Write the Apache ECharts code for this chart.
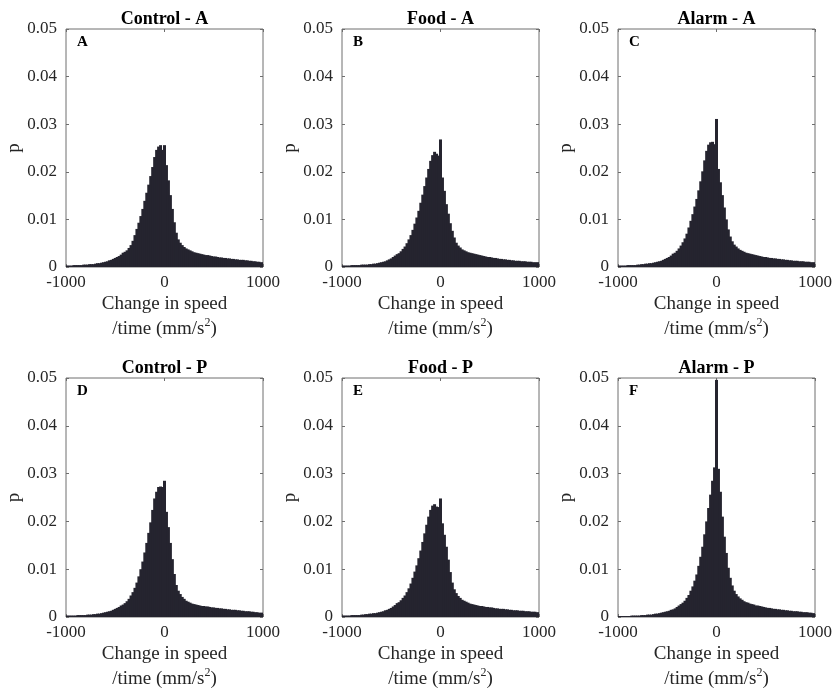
<!DOCTYPE html>
<html>
<head>
<meta charset="utf-8">
<script src="https://cdn.jsdelivr.net/npm/echarts@6/dist/echarts.min.js"></script>
<style>
  html, body { margin: 0; padding: 0; background: #fff; }
  #chart { width: 836px; height: 696px; }
</style>
</head>
<body>
<div id="chart"></div>
<script>
// Histogram bins: width 20 mm/s^2, centred on -1000, -980, ..., 1000
const BIN_WIDTH = 20;
const FIRST_BIN = -1000;
const BIN_COUNT = 101;
// Bin heights are stored in units of 1e-4 (probability per bin)
const P_UNIT = 1e-4;

const xTicks = [-1000, 0, 1000];
const yTicks = [0, 0.01, 0.02, 0.03, 0.04, 0.05];

const ctrlA = [
  3,3,3,3,4,4,4,4,4,5, 5,5,6,6,6,7,8,8,9,10, 11,12,14,15,17,19,21,23,26,30,
  32,35,40,46,55,67,80,93,107,122, 139,156,173,191,210,231,246,253,256,246,
  256,
  214,182,151,122,94,72,58,51,46,42, 39,37,35,33,31,30,29,28,27,26,
  25,25,24,23,22,22,21,20,20,19, 19,18,18,17,17,16,16,15,15,15, 14,14,13,13,12,12,11,11,10,10
];
const foodA = [
  3,3,3,3,3,4,4,4,4,4, 5,5,5,5,6,6,7,7,8,9, 10,11,12,14,16,18,21,24,27,29,
  33,38,43,50,58,67,78,91,104,118, 135,152,170,188,206,223,235,242,238,234,
  268,
  188,160,132,112,92,76,62,51,45,41, 37,35,33,31,30,29,28,27,26,25,
  24,23,22,21,21,20,19,19,18,17, 17,16,16,15,15,14,14,13,13,13, 12,12,12,11,11,11,10,10,10,10
];
const alarmA = [
  3,3,3,3,3,4,4,4,4,4, 5,5,6,6,7,7,8,8,9,10, 11,12,13,15,17,19,21,24,28,30,
  34,39,45,52,60,70,83,97,111,127, 143,161,180,201,224,244,257,262,263,258,
  311,
  206,178,151,125,100,79,64,54,47,43, 39,36,34,32,30,29,28,27,26,25,
  24,23,22,21,21,20,19,19,18,18, 17,17,16,16,15,15,14,14,13,13, 13,12,12,12,11,11,11,10,10,10
];
const ctrlP = [
  3,3,3,3,3,3,4,4,4,4, 4,5,5,5,6,6,7,7,8,9, 10,11,12,13,15,17,19,21,24,26,
  29,33,38,45,52,61,72,85,100,116, 135,155,176,198,224,248,262,272,273,272,
  285,
  220,188,155,121,90,67,55,48,42,38, 34,32,30,28,27,26,25,24,23,23,
  22,22,21,20,20,19,19,18,18,17, 17,16,16,15,15,15,14,14,13,13, 12,12,12,11,11,10,10,9,9,9
];
const foodP = [
  3,3,3,3,3,4,4,4,4,4, 5,5,6,6,7,7,8,8,9,10, 11,12,14,15,17,19,22,25,29,31,
  35,40,45,52,60,70,82,95,108,123, 139,157,175,193,210,224,233,236,231,230,
  248,
  196,172,147,120,94,72,58,50,44,40, 36,34,32,30,28,27,26,25,24,23,
  23,22,21,21,20,20,19,18,18,17, 17,17,16,16,15,15,14,14,14,13, 13,13,12,12,12,11,11,11,10,10
];
const alarmP = [
  2,2,2,2,2,2,2,3,3,3, 3,3,4,4,4,5,5,5,6,7, 7,8,9,10,11,12,13,15,16,18,
  21,24,27,30,34,40,46,55,64,76, 89,107,126,147,173,200,228,256,285,313,
  496,
  310,262,210,168,134,103,82,66,55,48, 43,39,36,33,31,30,28,27,26,24,
  24,23,22,21,20,19,19,18,17,17, 16,16,15,15,14,14,13,13,12,12, 12,11,11,10,10,10,9,9,8,8
];

const panelTitles = ['Control - A', 'Food - A', 'Alarm - A', 'Control - P', 'Food - P', 'Alarm - P'];
const panelLetters = ['A', 'B', 'C', 'D', 'E', 'F'];
const panelValues = [ctrlA, foodA, alarmA, ctrlP, foodP, alarmP];

const binCenters = Array.from({ length: BIN_COUNT }, (_, k) => FIRST_BIN + k * BIN_WIDTH);

// Layout of the 2 x 3 panel grid
const COL_LEFT = [66, 342, 618];
const ROW_TOP = [29, 378];
const ROW_HEIGHT = [238, 239];
const PANEL_WIDTH = 197;

const FONT = "'Liberation Serif', 'Times New Roman', Times, serif";
const TEXT_COLOR = '#262626';
const AXIS_COLOR = '#6e6e6e';
const BAR_COLOR = '#25242f';

// One filled rectangle per bin; neighbours overlap by a hair so no seams show
function renderBin(params, api) {
  const c = api.value(0);
  const v = api.value(1);
  const topLeft = api.coord([c - BIN_WIDTH / 2, v]);
  const bottomRight = api.coord([c + BIN_WIDTH / 2, 0]);
  const rect = echarts.graphic.clipRectByRect(
    { x: topLeft[0] - 0.5, y: topLeft[1], width: bottomRight[0] - topLeft[0] + 1, height: bottomRight[1] - topLeft[1] },
    { x: params.coordSys.x, y: params.coordSys.y, width: params.coordSys.width, height: params.coordSys.height }
  );
  return rect && {
    type: 'rect',
    shape: rect,
    style: { fill: BAR_COLOR }
  };
}

const grid = [], xAxis = [], yAxis = [], series = [], graphic = [];

panelValues.forEach((vals, i) => {
  const row = Math.floor(i / 3), col = i % 3;
  const left = COL_LEFT[col], top = ROW_TOP[row], height = ROW_HEIGHT[row];

  grid.push({
    left: left, top: top, width: PANEL_WIDTH, height: height,
    show: true, borderColor: AXIS_COLOR, borderWidth: 1, backgroundColor: 'transparent',
    containLabel: false, outerBoundsMode: 'none'
  });

  const tick = { show: true, inside: true, length: 3, lineStyle: { color: AXIS_COLOR, width: 1 } };
  const noLine = { show: false, onZero: false };

  xAxis.push({
    gridIndex: i, type: 'value', position: 'bottom',
    min: xTicks[0], max: xTicks[xTicks.length - 1], interval: xTicks[1] - xTicks[0],
    axisLine: noLine, axisTick: tick, splitLine: { show: false },
    axisLabel: { color: TEXT_COLOR, fontFamily: FONT, fontSize: 17, margin: 7, formatter: (v) => String(v) },
    name: 'Change in speed\n/time (mm/s{sup|2})',
    nameLocation: 'middle', nameGap: 25,
    nameTextStyle: {
      color: TEXT_COLOR, fontFamily: FONT, fontSize: 19, lineHeight: 25,
      rich: { sup: { color: TEXT_COLOR, fontFamily: FONT, fontSize: 12, lineHeight: 12, verticalAlign: 'top' } }
    }
  });
  xAxis.push({
    gridIndex: i, type: 'value', position: 'top',
    min: xTicks[0], max: xTicks[xTicks.length - 1], interval: xTicks[1] - xTicks[0],
    axisLine: noLine, axisTick: tick, axisLabel: { show: false }, splitLine: { show: false }
  });

  yAxis.push({
    gridIndex: i, type: 'value', position: 'left',
    min: yTicks[0], max: yTicks[yTicks.length - 1], interval: yTicks[1] - yTicks[0],
    axisLine: noLine, axisTick: tick, splitLine: { show: false },
    axisLabel: { color: TEXT_COLOR, fontFamily: FONT, fontSize: 17, margin: 9 },
    name: 'p', nameLocation: 'middle', nameGap: 36,
    nameTextStyle: { color: TEXT_COLOR, fontFamily: FONT, fontSize: 19 }
  });
  yAxis.push({
    gridIndex: i, type: 'value', position: 'right',
    min: yTicks[0], max: yTicks[yTicks.length - 1], interval: yTicks[1] - yTicks[0],
    axisLine: noLine, axisTick: tick, axisLabel: { show: false }, splitLine: { show: false }
  });

  series.push({
    type: 'custom',
    name: panelTitles[i],
    xAxisIndex: 2 * i, yAxisIndex: 2 * i,
    renderItem: renderBin,
    encode: { x: 0, y: 1 },
    data: binCenters.map((c, k) => [c, vals[k] * P_UNIT]),
    z: 1
  });

  graphic.push({
    type: 'text', z: 10,
    style: {
      text: panelTitles[i], x: left + PANEL_WIDTH / 2, y: top - 10,
      textAlign: 'center', textVerticalAlign: 'middle',
      font: "bold 18px " + FONT, fill: '#000'
    }
  });
  graphic.push({
    type: 'text', z: 10,
    style: {
      text: panelLetters[i], x: left + 11, y: top + 13,
      textAlign: 'left', textVerticalAlign: 'middle',
      font: "bold 15px " + FONT, fill: '#000'
    }
  });
});

const chart = echarts.init(document.getElementById('chart'), null, { renderer: 'canvas' });
chart.setOption({
  backgroundColor: '#fff',
  animation: false,
  grid, xAxis, yAxis, series, graphic
});
</script>
</body>
</html>
